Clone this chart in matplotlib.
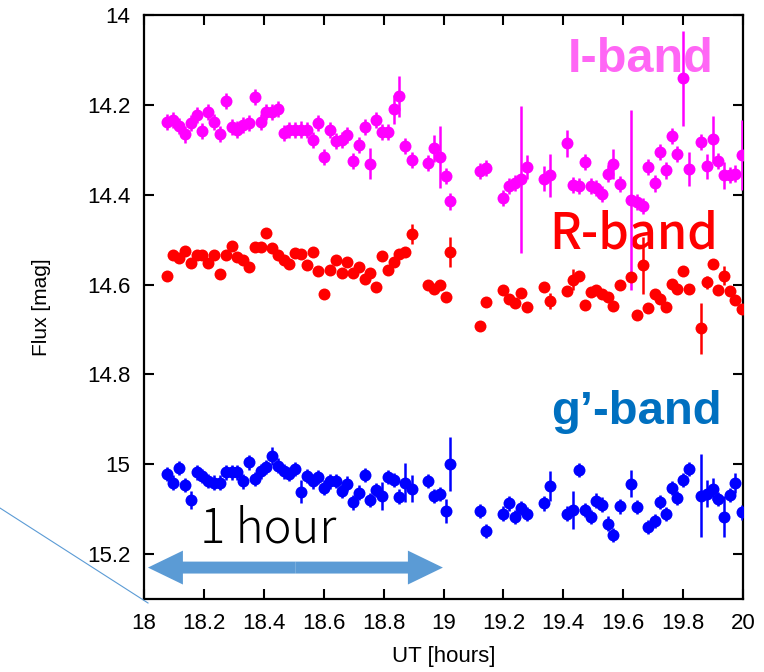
import numpy as np
import matplotlib.pyplot as plt
from matplotlib.patches import FancyArrowPatch
from matplotlib.lines import Line2D

# observation times [UT hours], shared by the three bands
t_obs = [18.078, 18.098, 18.117, 18.137, 18.156, 18.176, 18.195, 18.215, 18.234, 18.254,
         18.273, 18.293, 18.312, 18.332, 18.351, 18.370, 18.390, 18.408, 18.428, 18.447,
         18.466, 18.485, 18.504, 18.524, 18.543, 18.563, 18.582, 18.601, 18.621, 18.640,
         18.660, 18.679, 18.698, 18.718, 18.738, 18.756, 18.776, 18.796, 18.815, 18.834,
         18.853, 18.873, 18.894, 18.949, 18.968, 18.988, 19.008, 19.022,
         19.122, 19.143, 19.200, 19.220, 19.239, 19.259, 19.279, 19.336, 19.357, 19.413,
         19.432, 19.453, 19.472, 19.491, 19.510, 19.530, 19.549, 19.567, 19.588, 19.626,
         19.646, 19.665, 19.684, 19.705, 19.724, 19.743, 19.762, 19.781, 19.801, 19.820,
         19.859, 19.879, 19.899, 19.918, 19.936, 19.956, 19.974, 19.996]

i_mag = [14.239, 14.233, 14.248, 14.266, 14.241, 14.223, 14.259, 14.216, 14.238, 14.265,
         14.192, 14.249, 14.255, 14.245, 14.241, 14.182, 14.239, 14.216, 14.216, 14.210,
         14.262, 14.256, 14.256, 14.255, 14.256, 14.279, 14.241, 14.317, 14.256, 14.280,
         14.279, 14.268, 14.325, 14.290, 14.250, 14.331, 14.234, 14.260, 14.260, 14.210,
         14.181, 14.292, 14.322, 14.329, 14.297, 14.316, 14.359, 14.415,
         14.347, 14.340, 14.407, 14.381, 14.374, 14.366, 14.338, 14.364, 14.357, 14.286,
         14.379, 14.381, 14.327, 14.381, 14.386, 14.399, 14.353, 14.331, 14.377, 14.412,
         14.416, 14.425, 14.338, 14.375, 14.305, 14.346, 14.270, 14.310, 14.141, 14.342,
         14.282, 14.337, 14.277, 14.325, 14.357, 14.357, 14.353, 14.312]

r_mag = [14.580, 14.535, 14.540, 14.526, 14.551, 14.535, 14.534, 14.551, 14.535, 14.576,
         14.534, 14.514, 14.539, 14.545, 14.560, 14.517, 14.517, 14.485, 14.518, 14.535,
         14.545, 14.554, 14.530, 14.531, 14.556, 14.528, 14.570, 14.621, 14.567, 14.545,
         14.574, 14.550, 14.574, 14.561, 14.587, 14.574, 14.606, 14.537, 14.567, 14.550,
         14.533, 14.528, 14.487, 14.602, 14.611, 14.600, 14.628, 14.528,
         14.693, 14.638, 14.612, 14.633, 14.641, 14.619, 14.650, 14.606, 14.637, 14.615,
         14.589, 14.580, 14.645, 14.617, 14.613, 14.622, 14.628, 14.647, 14.600, 14.583,
         14.667, 14.557, 14.653, 14.622, 14.633, 14.650, 14.598, 14.611, 14.569, 14.611,
         14.697, 14.595, 14.555, 14.613, 14.580, 14.615, 14.634, 14.654]

g_mag = [15.022, 15.041, 15.009, 15.046, 15.080, 15.018, 15.026, 15.037, 15.041, 15.041,
         15.018, 15.018, 15.018, 15.038, 14.996, 15.033, 15.016, 15.006, 14.981, 15.003,
         15.016, 15.022, 15.011, 15.061, 15.026, 15.038, 15.029, 15.052, 15.038, 15.037,
         15.059, 15.043, 15.085, 15.063, 15.024, 15.080, 15.058, 15.070, 15.029, 15.035,
         15.072, 15.041, 15.054, 15.037, 15.070, 15.066, 15.104, 15.000,
         15.104, 15.148, 15.110, 15.087, 15.117, 15.098, 15.111, 15.087, 15.048, 15.110,
         15.102, 15.013, 15.102, 15.117, 15.081, 15.090, 15.132, 15.157, 15.094, 15.043,
         15.095, np.nan, 15.139, 15.126, 15.084, 15.111, 15.053, 15.075, 15.035, 15.011,
         15.070, 15.066, 15.055, 15.078, 15.117, 15.068, 15.041, 15.107]

# typical error per band, plus the points with visibly larger bars
i_err_typ = 0.018
i_err_big = {18.756: 0.034, 18.834: 0.032, 18.853: 0.046, 18.968: 0.03, 18.988: 0.07,
             19.259: 0.163, 19.279: 0.027, 19.336: 0.027, 19.357: 0.048, 19.413: 0.029,
             19.567: 0.033, 19.626: 0.20, 19.801: 0.106, 19.820: 0.038, 19.879: 0.028,
             19.899: 0.053, 19.936: 0.03, 19.996: 0.078}
r_err_typ = 0.008
r_err_big = {18.894: 0.022, 19.022: 0.033, 19.357: 0.018, 19.432: 0.024, 19.665: 0.063,
             19.859: 0.057, 19.879: 0.015, 19.936: 0.022}
g_err_typ = 0.016
g_err_big = {18.156: 0.02, 18.428: 0.02, 18.524: 0.026, 18.796: 0.031, 18.873: 0.043,
             18.894: 0.03, 19.008: 0.026, 19.022: 0.06, 19.357: 0.033, 19.432: 0.043,
             19.626: 0.03, 19.859: 0.092, 19.879: 0.03, 19.899: 0.024, 19.936: 0.046,
             19.974: 0.022}


def make_err(typ, big):
    err = [big.get(t, typ) for t in t_obs]
    return np.array(err)


tick_font = 'Liberation Sans'
jp_font = ['Noto Sans CJK JP', 'DejaVu Sans']

fig = plt.figure(figsize=(7.64, 6.72), dpi=100)
ax = fig.add_axes([0.1885, 0.1086, 0.784, 0.8691])

bands = [(i_mag, make_err(i_err_typ, i_err_big), '#ff00ff'),
         (r_mag, make_err(r_err_typ, r_err_big), '#ff0000'),
         (g_mag, make_err(g_err_typ, g_err_big), '#0000ff')]
for mag, err, col in bands:
    ax.errorbar(t_obs, mag, yerr=err, fmt='o', color=col, ms=8.6, elinewidth=1.8,
                capsize=0, mew=0, zorder=3)

ax.set_xlim(18, 20)
ax.set_ylim(15.3, 14.0)
ax.set_xticks(np.arange(18, 20.01, 0.2))
ax.set_xticklabels(['%g' % round(v, 1) for v in np.arange(18, 20.01, 0.2)])
ax.set_yticks(np.arange(14, 15.21, 0.2))
ax.set_yticklabels(['%g' % round(v, 1) for v in np.arange(14, 15.21, 0.2)])
ax.tick_params(direction='in', length=7.5, width=1.5, top=True, right=True,
               labelsize=16, pad=10)
for lab in ax.get_xticklabels() + ax.get_yticklabels():
    lab.set_fontfamily(tick_font)
for sp in ax.spines.values():
    sp.set_linewidth(1.6)

ax.set_xlabel('UT [hours]', fontsize=16, family=tick_font, labelpad=9)
ax.set_ylabel('Flux [mag]', fontsize=15, family=tick_font, labelpad=26)

# band labels
ax.text(0.950, 0.902, 'I-band', transform=ax.transAxes, ha='right', va='baseline',
        fontsize=35, fontweight='bold', color='#ff66f5', family=tick_font, zorder=1)
ax.text(0.958, 0.601, 'R-band', transform=ax.transAxes, ha='right', va='baseline',
        fontsize=35, color='#ff0000', family=jp_font, fontweight='medium', zorder=1)
ax.text(0.965, 0.300, 'g\u2019-band', transform=ax.transAxes, ha='right', va='baseline',
        fontsize=34, fontweight='bold', color='#0070c0', family=tick_font, zorder=1)

# one-hour scale arrow
ax.text(0.0935, 0.0976, '1 hour', transform=ax.transAxes, ha='left', va='baseline',
        fontsize=34, color='black', family=jp_font, fontweight='light', zorder=1)
arrow_style = 'simple,head_length=1.26,head_width=1.22,tail_width=0.43'
y_arrow = 15.23
for x_end in (18.013, 18.998):
    ax.add_patch(FancyArrowPatch((18.505, y_arrow), (x_end, y_arrow), arrowstyle=arrow_style,
                                 mutation_scale=20, color='#5b9bd5', lw=0,
                                 shrinkA=0, shrinkB=0, zorder=2))

# stray thin line at lower left
fig.add_artist(Line2D([0.0, 0.1937], [0.244, 0.1027], transform=fig.transFigure,
                      color='#5b9bd5', lw=0.8))

fig.savefig('out.png', dpi=100)
